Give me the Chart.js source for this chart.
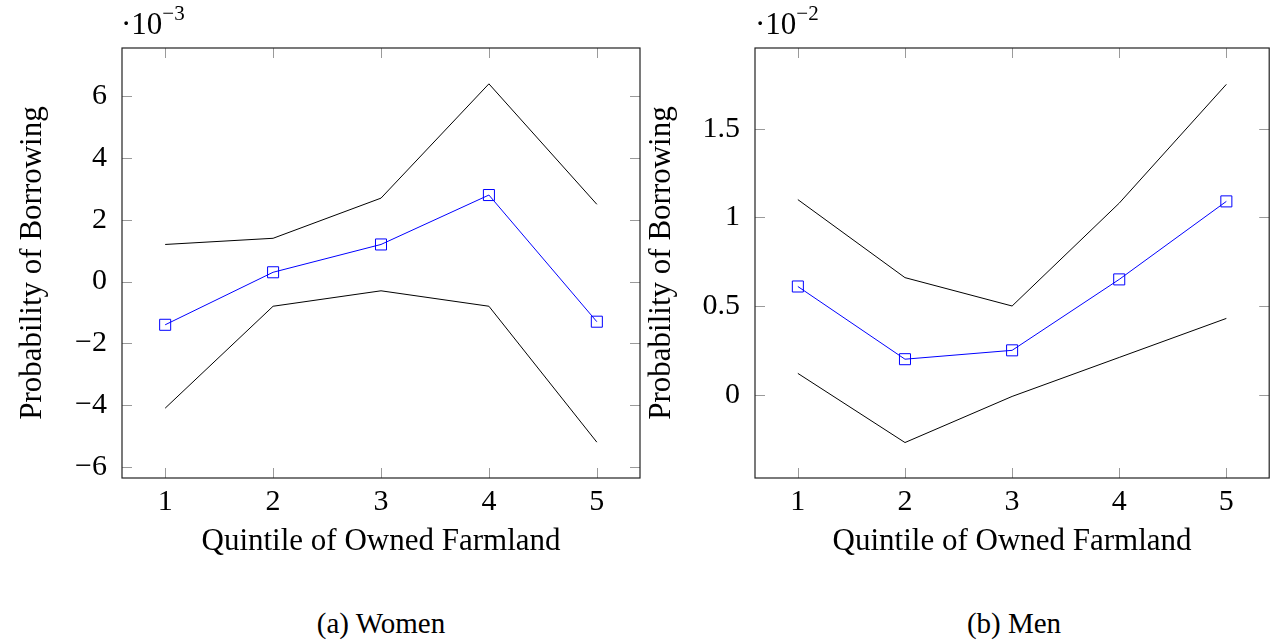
<!DOCTYPE html>
<html lang="en">
<head>
<meta charset="UTF-8">
<title>Probability of Borrowing by Quintile</title>
<script src="https://cdn.jsdelivr.net/npm/chart.js"></script>
<style>
  body { margin: 0; background: #fff; width: 1278px; height: 642px; position: relative; overflow: hidden;
         font-family: "Liberation Serif", "DejaVu Serif", serif; color: #000; }
  .panel { position: absolute; top: 0; }
  .mult { position: absolute; top: 6px; font-size: 31px; line-height: 1; }
  .mult sup { font-size: 21px; position: relative; top: -3px; }
  .caption { position: absolute; top: 608px; font-size: 29px; line-height: 1.1; text-align: center; width: 300px; }
</style>
</head>
<body>
  <div class="panel" style="left:0px; width:650px; height:570px;"><canvas id="womenChart"></canvas></div>
  <div class="panel" style="left:645px; width:633px; height:570px;"><canvas id="menChart"></canvas></div>

  <div class="mult" style="left:121px;">·10<sup>−3</sup></div>
  <div class="mult" style="left:755px;">·10<sup>−2</sup></div>

  <div class="caption" style="left:231px;">(a) Women</div>
  <div class="caption" style="left:864px;">(b) Men</div>

<script>
// x categories
const quintiles = [1, 2, 3, 4, 5];

// Women (values x 10^-3)
const womenUpper = [1.2, 1.4, 2.7, 6.4, 2.5];
const womenEstimate = [-1.4, 0.3, 1.2, 2.8, -1.3];
const womenLower = [-4.1, -0.8, -0.3, -0.8, -5.2];
const womenTicks = [-6, -4, -2, 0, 2, 4, 6];

// Men (values x 10^-2)
const menUpper = [1.1, 0.66, 0.5, 1.08, 1.75];
const menEstimate = [0.61, 0.2, 0.25, 0.65, 1.09];
const menLower = [0.12, -0.27, -0.01, 0.21, 0.43];
const menTicks = [0, 0.5, 1, 1.5];

const FONT = "'Liberation Serif', 'DejaVu Serif', serif";

function toPoints(values) {
  return quintiles.map((q, i) => ({ x: q, y: values[i] }));
}

// draws the frame and the inward tick marks on all four sides
const frameTicks = {
  id: 'frameTicks',
  afterDraw(chart) {
    const ctx = chart.ctx;
    const a = chart.chartArea;
    const xs = chart.scales.x, ys = chart.scales.y;
    const len = 10;
    ctx.save();
    ctx.strokeStyle = '#9a9a9a';
    ctx.lineWidth = 1;
    ctx.beginPath();
    xs.ticks.forEach(t => {
      const px = Math.round(xs.getPixelForValue(t.value)) + 0.5;
      ctx.moveTo(px, a.bottom); ctx.lineTo(px, a.bottom - len);
      ctx.moveTo(px, a.top); ctx.lineTo(px, a.top + len);
    });
    ys.ticks.forEach(t => {
      const py = Math.round(ys.getPixelForValue(t.value)) + 0.5;
      ctx.moveTo(a.left, py); ctx.lineTo(a.left + len, py);
      ctx.moveTo(a.right, py); ctx.lineTo(a.right - len, py);
    });
    ctx.stroke();
    ctx.strokeStyle = '#222';
    ctx.lineWidth = 1.2;
    ctx.strokeRect(a.left, a.top, a.right - a.left, a.bottom - a.top);
    ctx.restore();
  }
};

function makeChart(id, upper, estimate, lower, yTicks, yMin, yMax, yWidth, titlePad, padRight) {
  return new Chart(document.getElementById(id), {
    type: 'line',
    data: {
      datasets: [
        { data: toPoints(upper), borderColor: '#000', borderWidth: 1, pointRadius: 0, fill: false, tension: 0 },
        { data: toPoints(lower), borderColor: '#000', borderWidth: 1, pointRadius: 0, fill: false, tension: 0 },
        { data: toPoints(estimate), borderColor: '#0000ff', borderWidth: 1, pointStyle: 'rect',
          pointRadius: 7.8, pointBorderColor: '#0000ff', pointBackgroundColor: 'rgba(0,0,0,0)',
          pointBorderWidth: 1, fill: false, tension: 0 }
      ]
    },
    options: {
      responsive: true,
      maintainAspectRatio: false,
      animation: false,
      layout: { padding: { top: 48, right: padRight, left: 0, bottom: 0 } },
      plugins: { legend: { display: false }, tooltip: { enabled: false } },
      scales: {
        x: {
          type: 'linear', min: 0.6, max: 5.4,
          afterBuildTicks: s => { s.ticks = quintiles.map(v => ({ value: v })); },
          afterFit: s => { s.height = 92; },
          grid: { display: false, drawTicks: false },
          border: { display: false },
          ticks: { color: '#000', font: { family: FONT, size: 30 }, padding: 6, maxRotation: 0 },
          title: { display: true, text: 'Quintile of Owned Farmland', color: '#000',
                   font: { family: FONT, size: 31, lineHeight: 1 }, padding: { top: 0, bottom: 12.5 } }
        },
        y: {
          min: yMin, max: yMax,
          afterBuildTicks: s => { s.ticks = yTicks.map(v => ({ value: v })); },
          afterFit: s => { s.width = yWidth; },
          grid: { display: false, drawTicks: false },
          border: { display: false },
          ticks: { color: '#000', font: { family: FONT, size: 30 }, padding: 15,
                   callback: v => String(v).replace('-', '\u2212') },
          title: { display: true, text: 'Probability of Borrowing', color: '#000',
                   font: { family: FONT, size: 31, lineHeight: 1 }, padding: { top: titlePad, bottom: 0 } }
        }
      }
    },
    plugins: [frameTicks]
  });
}

makeChart('womenChart', womenUpper, womenEstimate, womenLower, womenTicks, -6.36, 7.56, 122, 17.5, 10);
makeChart('menChart', menUpper, menEstimate, menLower, menTicks, -0.47, 1.955, 110, 1.5, 5);
</script>
</body>
</html>
